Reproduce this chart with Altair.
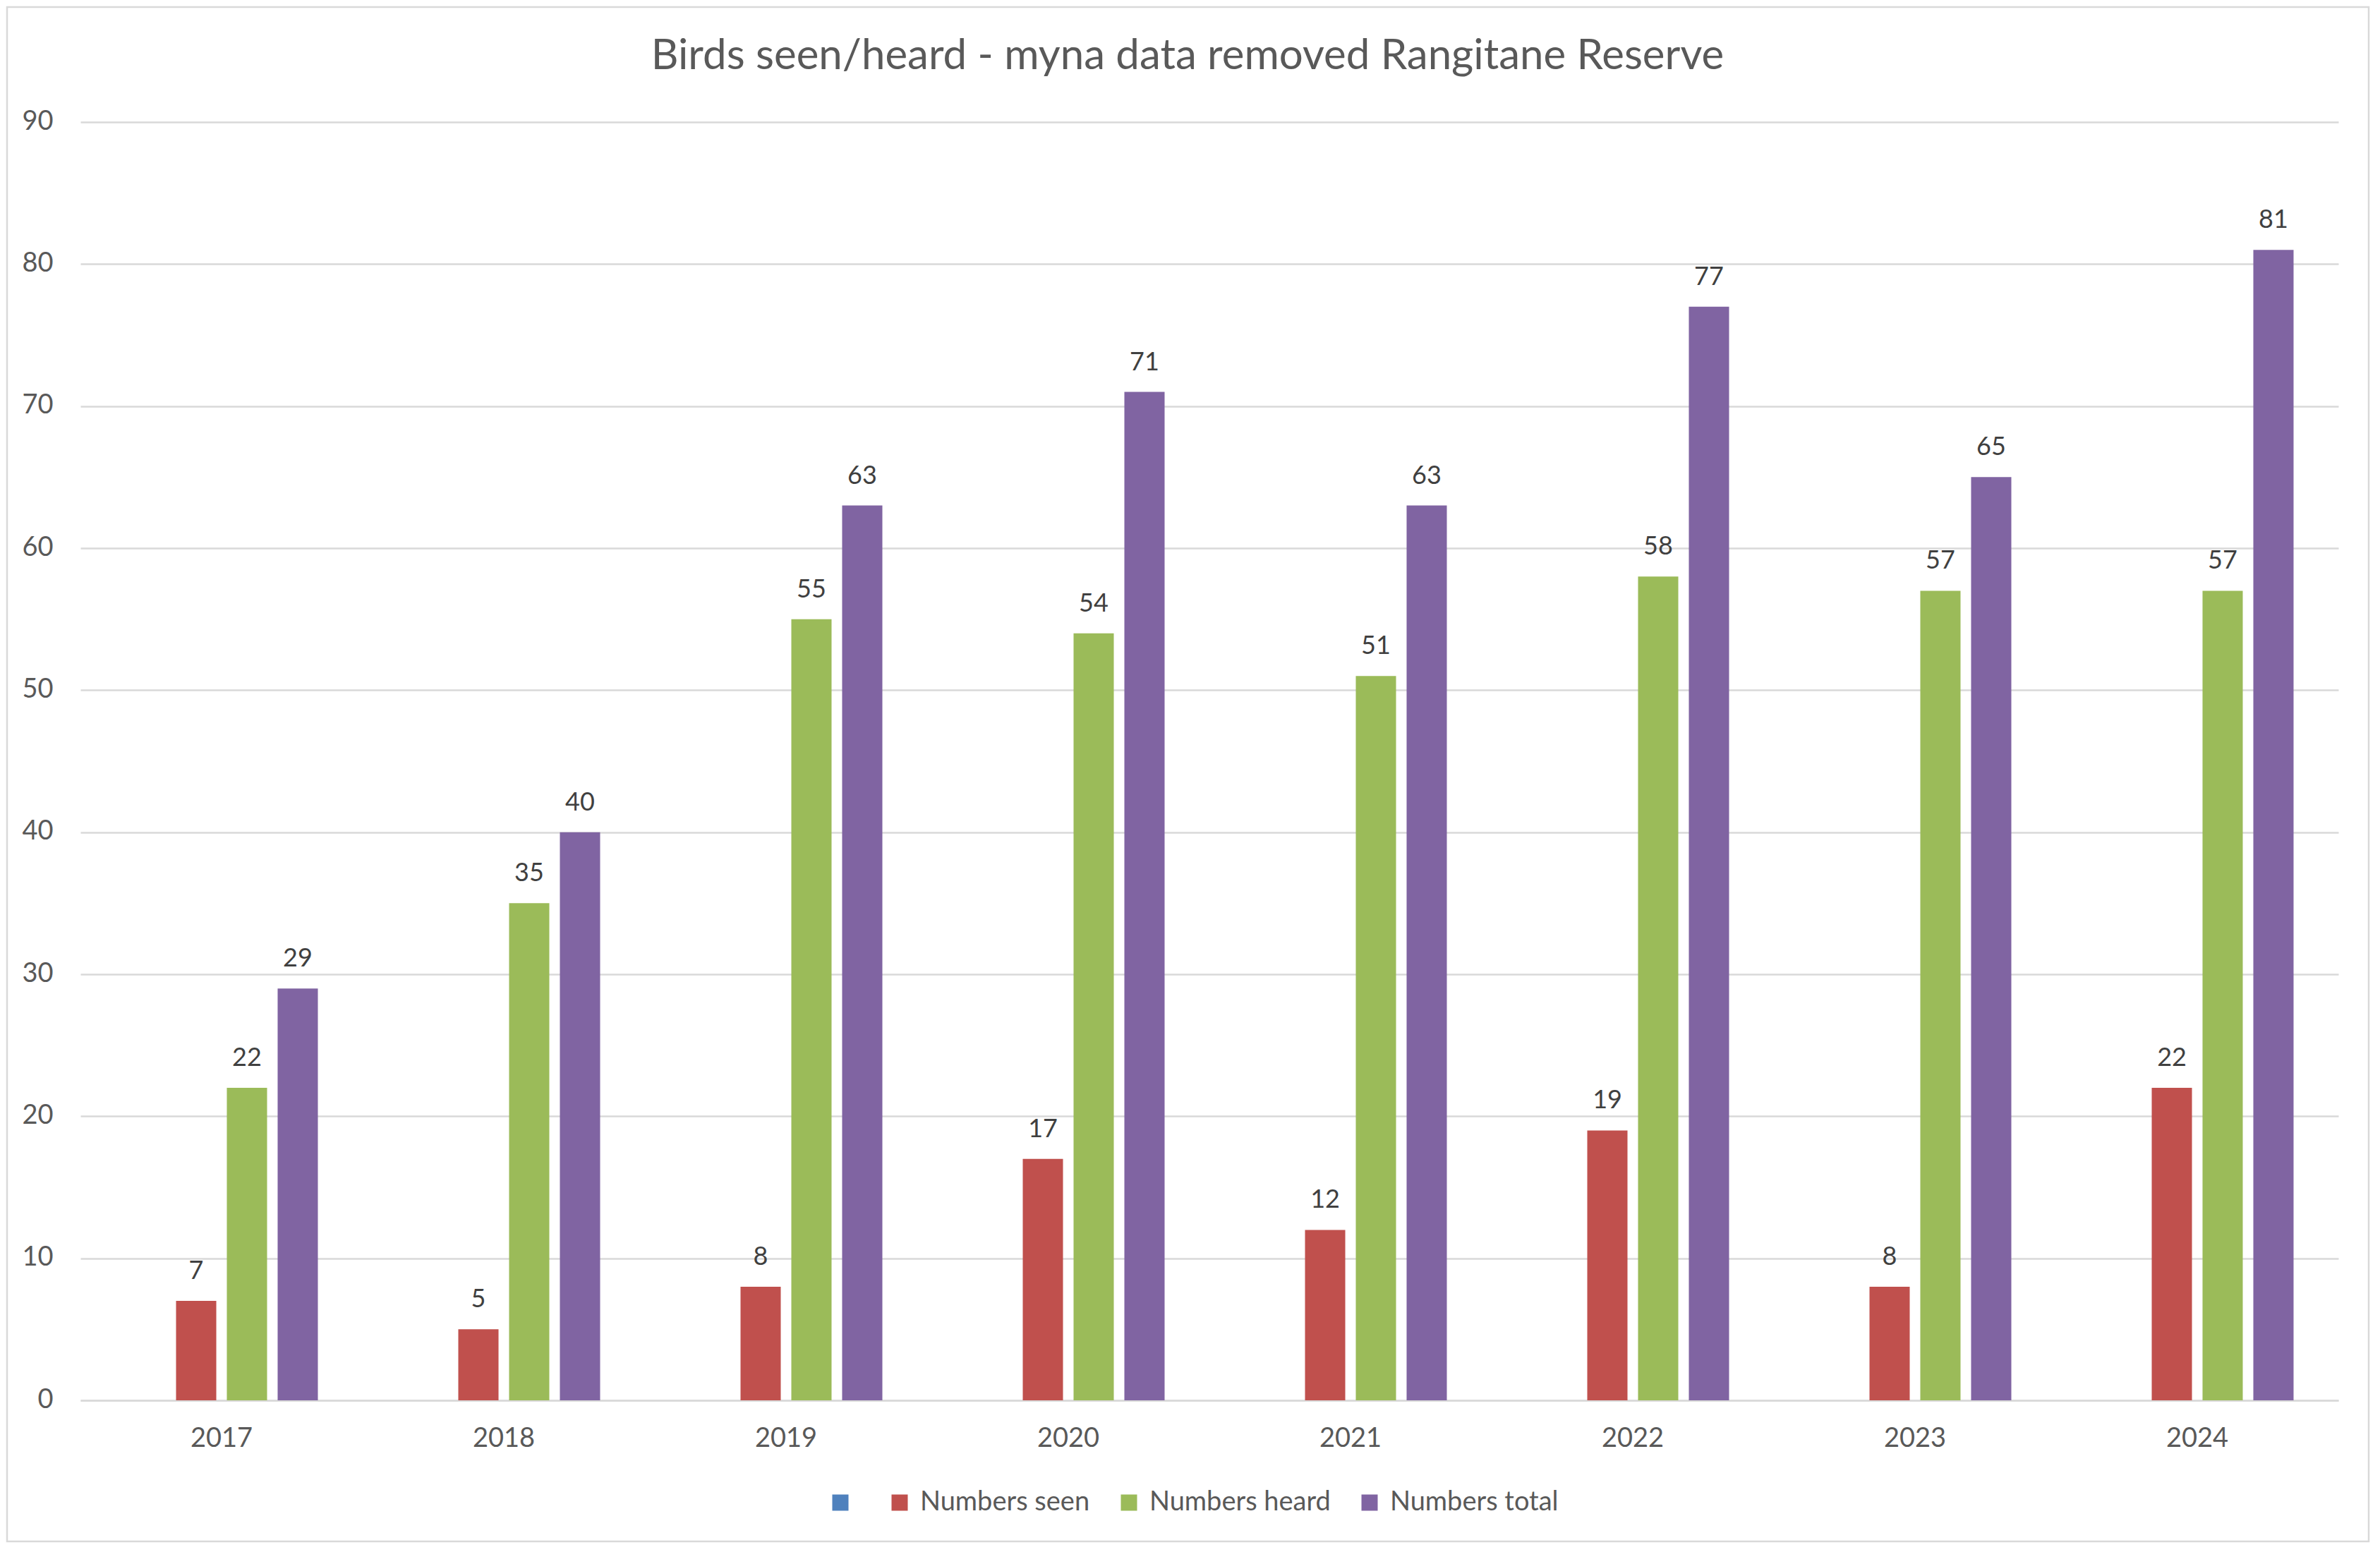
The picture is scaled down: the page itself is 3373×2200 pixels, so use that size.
import altair as alt
import pandas as pd

years = ["2017", "2018", "2019", "2020", "2021", "2022", "2023", "2024"]
series_names = ["Series1", "Numbers seen", "Numbers heard", "Numbers total"]
series_colors = ["#4F81BD", "#C0504D", "#9BBB59", "#8064A2"]
numbers_seen = [7, 5, 8, 17, 12, 19, 8, 22]
numbers_heard = [22, 35, 55, 54, 51, 58, 57, 57]
numbers_total = [29, 40, 63, 71, 63, 77, 65, 81]
y_ticks = [0, 10, 20, 30, 40, 50, 60, 70, 80, 90]
title_text = "Birds seen/heard - myna data removed Rangitane Reserve"

rows = []
for name, vals in [("Numbers seen", numbers_seen), ("Numbers heard", numbers_heard), ("Numbers total", numbers_total)]:
    for yr, v in zip(years, vals):
        rows.append({"Year": yr, "Series": name, "Value": v})
df = pd.DataFrame(rows)

W, H = 3200, 1812
PAD = {"left": 106, "top": 165, "right": 46, "bottom": 203}
FONT = "Lato"

x_enc = alt.X("Year:N", sort=years,
              scale=alt.Scale(paddingInner=0.3175, paddingOuter=0.15875),
              axis=alt.Axis(title=None, labelAngle=0, labelFontSize=38, labelColor="#595959",
                            labelFont=FONT, labelBaseline="alphabetic", labelPadding=65,
                            ticks=False, tickSize=0, domain=True, domainColor="#d9d9d9",
                            domainWidth=2.5, grid=False))
xoff_enc = alt.XOffset("Series:N", scale=alt.Scale(domain=series_names, paddingInner=0.208, paddingOuter=0))
y_enc = alt.Y("Value:Q", scale=alt.Scale(domain=[0, 90], nice=False),
              axis=alt.Axis(title=None, values=y_ticks, labelFontSize=38, labelColor="#595959",
                            labelFont=FONT, labelBaseline="alphabetic", labelOffset=10,
                            labelPadding=39, ticks=False, tickSize=0, domain=False,
                            grid=True, gridColor="#d9d9d9", gridWidth=2.5))

color_enc = alt.Color("Series:N",
                      scale=alt.Scale(domain=series_names, range=series_colors),
                      legend=alt.Legend(title=None, orient="none", direction="horizontal",
                                        legendX=1058, legendY=1938, columns=4,
                                        symbolType="square", symbolSize=529, symbolStrokeWidth=0,
                                        symbolOpacity=1, labelFontSize=38, labelColor="#595959",
                                        labelFont=FONT, labelOffset=10, columnPadding=36,
                                        padding=0, labelLimit=0,
                                        labelExpr="datum.label == 'Series1' ? '' : datum.label"))

base = alt.Chart(df)

bars = base.mark_bar().encode(x=x_enc, xOffset=xoff_enc, y=y_enc, color=color_enc)

labels = base.mark_text(dy=-31, baseline="alphabetic", fontSize=36, color="#404040", font=FONT).encode(
    x=alt.X("Year:N", sort=years), xOffset="Series:N", y="Value:Q", text="Value:Q")

frame = alt.Chart(pd.DataFrame({"k": [0]})).mark_rect(
    fill=None, stroke="#d9d9d9", strokeWidth=2.5).encode(
    x=alt.value(-104), x2=alt.value(W + PAD["right"] - 3),
    y=alt.value(-163), y2=alt.value(H + PAD["bottom"] - 3))

chart = alt.layer(frame, bars, labels).properties(
    width=W, height=H,
    padding=PAD,
    autosize=alt.AutoSizeParams(type="none"),
    title=alt.TitleParams(title_text, font=FONT, fontSize=60, fontWeight="normal",
                          color="#595959", anchor="middle", frame="group", dx=-31,
                          baseline="alphabetic", offset=-149),
).configure(font=FONT, view=alt.ViewConfig(stroke=None))

chart.save("out.html", embed_options={"renderer": "svg", "actions": False})
